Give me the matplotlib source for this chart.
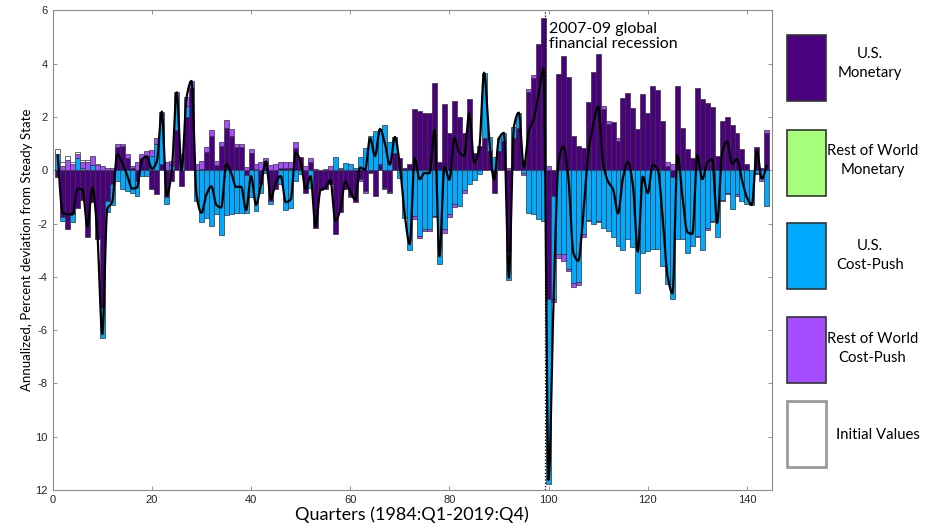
import matplotlib.pyplot as plt
from matplotlib.patches import Rectangle
import numpy as np

plt.rcParams['font.family'] = ['Lato', 'DejaVu Sans']

quarters = np.arange(1, 145)

# contributions by shock, quarters 1..144
us_mon = [-0.25, -1.75, -2.2, -1.65, -1.4, -1.1, -2.5, -1.2, -2.6, -5.15,
          -1.15, -0.5, 0.88, 0.9, 0.45, 0.1, -0.4, 0.45, 0.55, -0.7,
          -0.9, 0.25, -1.0, -0.4, 1.5, -0.6, 2.0, 3.08, 0.0, 0.05,
          0.67, 1.3, 0.2, 0.9, 1.6, 1.3, 0.87, 0.88, -0.18, 0.65,
          0.05, -0.52, 0.33, -1.15, -0.7, 0.1, 0.1, 0.1, 0.85, 0.48,
          -0.87, 0.3, -2.15, -0.75, -0.7, -0.52, -2.4, -1.56, -0.69, -0.96,
          -1.2, -0.34, -0.78, -0.1, -0.95, 0.25, -0.65, -0.8, 0.65, 0.47,
          0.1, 0.22, 2.29, 2.22, 2.16, 2.16, 3.29, 0.29, 2.5, 1.38,
          2.58, 2.0, 1.41, 2.66, 0.66, 0.91, 1.22, 0.73, -0.87, 0.72,
          1.1, -3.02, 1.2, 1.6, 0.3, 2.95, 3.45, 4.72, 5.72, -4.84,
          -0.95, 3.6, 4.3, 3.5, 1.3, 0.9, 0.85, 2.55, 3.7, 4.35,
          2.3, 1.72, 1.79, 1.1, 2.72, 2.91, 2.35, 1.54, 2.85, 2.16,
          3.16, 3.0, 1.85, 0.17, -0.27, 3.16, 1.6, 0.79, 0.45, 3.08,
          2.66, 2.54, 2.38, 0.54, 1.83, 1.98, 1.7, 1.38, 0.79, 0.25,
          0.0, 0.88, 0.08, 1.38]
row_mon = [0.0] * 144
us_cp = [0.6, -0.15, 0.0, -0.3, 0.45, 0.1, 0.0, 0.2, 0.0, -1.15,
         -0.4, -0.8, -0.4, -0.7, -0.78, -0.85, -0.55, -0.2, -0.2, 0.55,
         0.97, 1.85, -0.25, 0.2, 1.2, 0.35, 0.4, 0.0, -1.15, -1.95,
         -1.78, -2.1, -1.65, -2.45, -1.67, -1.65, -1.6, -1.62, -1.44, -1.02,
         -1.52, -0.33, -0.12, -0.13, 0.0, -0.52, -1.5, -1.4, -0.4, -0.15,
         0.0, -0.67, 0.0, 0.0, 0.0, 0.0, 0.5, 0.05, 0.26, 0.22,
         0.1, 0.5, 0.85, 1.3, 1.48, 1.3, 1.7, 1.05, 0.6, -0.28,
         -1.78, -3.0, -1.71, -2.46, -2.21, -2.21, -1.71, -3.52, -2.21, -1.65,
         -1.27, -1.34, -0.75, -0.52, -0.38, -0.13, 2.44, 0.52, 0.5, 0.48,
         0.3, -1.1, 0.42, 0.56, -0.1, -1.59, -1.65, -1.84, -1.9, -6.94,
         -3.9, -3.15, -3.15, -3.7, -4.25, -4.2, -2.4, -1.85, -2.0, -1.9,
         -2.15, -2.28, -2.5, -2.84, -3.0, -2.59, -2.9, -4.6, -3.09, -3.02,
         -2.96, -2.96, -3.59, -4.27, -4.57, -2.59, -2.59, -3.12, -2.84, -2.46,
         -3.0, -2.17, -1.9, -2.52, -1.1, -0.85, -1.46, -0.88, -1.15, -1.27,
         -1.2, -0.1, -0.3, -1.34]
row_cp = [0.0, 0.15, 0.4, 0.22, 0.15, 0.2, 0.3, 0.35, 0.2, 0.15,
          0.1, 0.1, 0.12, 0.08, 0.15, 0.06, 0.3, 0.15, 0.17, 0.2,
          0.25, 0.1, 0.3, 0.15, 0.22, 0.25, 0.34, 0.27, 0.22, 0.3,
          0.2, 0.2, 0.15, 0.15, 0.3, 0.25, 0.1, 0.12, 0.12, 0.15,
          0.17, 0.32, 0.12, 0.2, 0.25, 0.2, 0.2, 0.2, 0.2, 0.0,
          0.15, 0.15, 0.04, 0.0, 0.04, 0.15, 0.0, 0.03, 0.0, -0.06,
          0.0, -0.06, -0.06, 0.0, 0.0, 0.0, -0.05, -0.05, 0.0, 0.0,
          0.0, 0.0, -0.13, -0.1, -0.06, -0.06, -0.06, 0.0, -0.16, -0.09,
          -0.1, 0.0, -0.12, 0.0, 0.0, 0.0, 0.0, 0.0, 0.0, 0.0,
          0.0, 0.08, 0.0, 0.0, -0.08, 0.09, 0.12, 0.0, 0.0, 0.16,
          -0.08, -0.15, -0.25, -0.1, -0.15, -0.1, -0.1, -0.05, 0.0, -0.05,
          0.11, 0.13, 0.0, 0.12, 0.0, 0.0, 0.0, 0.0, 0.0, 0.0,
          0.0, 0.0, 0.0, 0.12, 0.22, 0.0, 0.0, 0.0, 0.0, -0.06,
          0.0, -0.08, -0.06, 0.0, -0.07, -0.05, 0.0, -0.08, 0.0, 0.0,
          -0.1, -0.05, -0.1, 0.12]
init_vals = [0.2, 0.15, 0.15, 0.07, 0.1, 0.08, 0.08, 0.0, 0.05] + [0.0] * 135

names = ['U.S.\nMonetary', 'Rest of World\nMonetary', 'U.S.\nCost-Push',
         'Rest of World\nCost-Push', 'Initial Values']
colors = ['#4b0080', '#a6ff7a', '#00aaff', '#a64dff', '#ffffff']


def smooth(x, y, n=8):
    # shape-preserving (pchip) curve through the points, for drawing only
    x = np.asarray(x, float)
    y = np.asarray(y, float)
    h = np.diff(x)
    delta = np.diff(y) / h
    d = np.zeros_like(y)
    for k in range(1, len(x) - 1):
        if delta[k - 1] * delta[k] > 0:
            w1 = 2 * h[k] + h[k - 1]
            w2 = h[k] + 2 * h[k - 1]
            d[k] = (w1 + w2) / (w1 / delta[k - 1] + w2 / delta[k])
    d[0] = delta[0]
    d[-1] = delta[-1]
    xs = np.linspace(x[0], x[-1], (len(x) - 1) * n + 1)
    j = np.clip(np.searchsorted(x, xs) - 1, 0, len(x) - 2)
    t = (xs - x[j]) / h[j]
    h00 = 2 * t ** 3 - 3 * t ** 2 + 1
    h10 = t ** 3 - 2 * t ** 2 + t
    h01 = -2 * t ** 3 + 3 * t ** 2
    h11 = t ** 3 - t ** 2
    ys = h00 * y[j] + h10 * h[j] * d[j] + h01 * y[j + 1] + h11 * h[j] * d[j + 1]
    return xs, ys


fig = plt.figure(figsize=(9.28, 5.31), dpi=100)
ax = fig.add_axes([0.0568, 0.0772, 0.7748, 0.9034])

pos_base = np.zeros(144)
neg_base = np.zeros(144)
for vals, col in zip([us_mon, row_mon, us_cp, row_cp, init_vals], colors):
    v = np.array(vals)
    for mask, base in [(v > 0, pos_base), (v < 0, neg_base)]:
        ax.bar(quarters[mask], v[mask], 1.0, bottom=base[mask], color=col,
               edgecolor='#333333', linewidth=0.5, zorder=2)
        base[mask] += v[mask]

total = np.array(us_mon) + np.array(row_mon) + np.array(us_cp) + np.array(row_cp) + np.array(init_vals)
xs, ys = smooth(quarters, total)
ax.plot(xs, ys, color='black', linewidth=1.6, zorder=3)

ax.axvline(99.2, color='black', linestyle=':', linewidth=0.9, zorder=4)
ax.text(100.1, 5.55, '2007-09 global\nfinancial recession', fontsize=11.5,
        va='top', ha='left', linespacing=1.1)

ax.set_xlim(0, 145)
ax.set_ylim(-12, 6)
ax.set_xticks(range(0, 141, 20))
ax.set_yticks(range(6, -13, -2))
ax.set_yticklabels(['6', '4', '2', '0', '-2', '-4', '-6', '-8', '10', '12'])
ax.tick_params(direction='in', top=True, right=True, length=3, width=0.6,
               labelsize=8, colors='#808080', labelcolor='#262626')
for lab in ax.get_xticklabels() + ax.get_yticklabels():
    lab.set_family(['Liberation Sans', 'DejaVu Sans'])
for sp in ax.spines.values():
    sp.set_color('#8c8c8c')
    sp.set_linewidth(0.8)

ax.set_xlabel('Quarters (1984:Q1-2019:Q4)', fontsize=13, labelpad=1)
ax.set_ylabel('Annualized, Percent deviation from Steady State', fontsize=9.5, labelpad=2)

# legend drawn by hand on the right
box_y = [0.8098, 0.6309, 0.4557, 0.2787, 0.1205]
text_y = [0.881, 0.697, 0.518, 0.343, 0.181]
text_x = [0.9375, 0.94, 0.9375, 0.94, 0.946]
for i, (name, col) in enumerate(zip(names, colors)):
    ec = '#9a9a9a' if i == 4 else '#333333'
    lw = 2.0 if i == 4 else 1.2
    fig.patches.append(Rectangle((0.848, box_y[i]), 0.042, 0.1243, transform=fig.transFigure,
                                 facecolor=col, edgecolor=ec, linewidth=lw))
    fig.text(text_x[i], text_y[i], name, fontsize=10.7, ha='center', va='center',
             linespacing=1.45)

fig.savefig('out.png', dpi=100)
